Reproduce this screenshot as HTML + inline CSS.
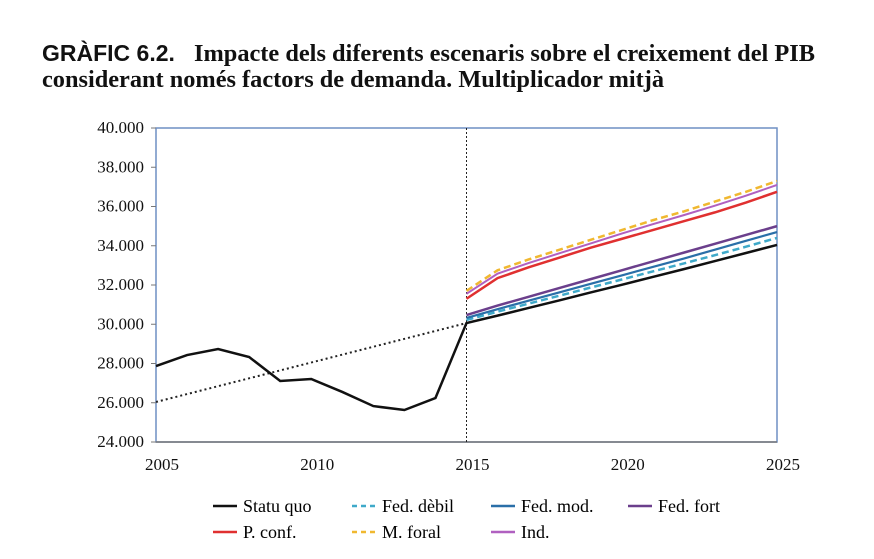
<!DOCTYPE html>
<html><head><meta charset="utf-8"><style>
body{margin:0;background:#fff;width:874px;height:554px;overflow:hidden}
svg text{font-family:"Liberation Serif",serif}
</style></head><body>
<svg width="874" height="554">
<text x="42" y="61" font-weight="bold" font-size="23" fill="#111" style="font-family:'Liberation Sans',sans-serif">GRÀFIC 6.2.</text>
<text x="194" y="61" font-size="24" font-weight="bold" fill="#111" textLength="621" lengthAdjust="spacingAndGlyphs">Impacte dels diferents escenaris sobre el creixement del PIB</text>
<text x="42" y="87" font-size="24" font-weight="bold" fill="#111" textLength="622" lengthAdjust="spacingAndGlyphs">considerant només factors de demanda. Multiplicador mitjà</text>
<g id="plot"></g>
</svg>
<script>
const years=[2005,2006,2007,2008,2009,2010,2011,2012,2013,2014,2015,2016,2017,2018,2019,2020,2021,2022,2023,2024,2025];
const scenYears=[2015,2016,2017,2018,2019,2020,2021,2022,2023,2024,2025];
const statuQuo=[27870,28430,28740,28330,27110,27210,26550,25830,25630,26240,30060,30440,30830,31220,31620,32010,32410,32810,33220,33630,34040];
const trendYears=[2005,2015];
const trend=[26040,30060];
const fedDebil=[30220,30640,31050,31460,31870,32280,32690,33100,33520,33950,34400];
const fedMod=[30320,30770,31200,31630,32060,32490,32920,33350,33800,34250,34700];
const fedFort=[30470,30950,31400,31850,32300,32750,33200,33650,34100,34550,35000];
const pConf=[31300,32350,32900,33400,33900,34350,34800,35250,35700,36200,36750];
const mForal=[31700,32750,33300,33800,34300,34800,35300,35750,36250,36750,37300];
const ind=[31550,32580,33120,33620,34120,34620,35100,35560,36040,36550,37100];
const yTicks=[24000,26000,28000,30000,32000,34000,36000,38000,40000];
const xTicks=[2005,2010,2015,2020,2025];
const L=156,R=777,T=128,B=442;
const xs=y=>L+(y-2005)*(R-L)/20;
const ys=v=>B-(v-24000)*(B-T)/16000;
const NS="http://www.w3.org/2000/svg";
const g=document.getElementById('plot');
function mk(t,a){const e=document.createElementNS(NS,t);for(const k in a)e.setAttribute(k,a[k]);g.appendChild(e);return e;}
let fr=mk('rect',{x:L,y:T,width:R-L,height:B-T,fill:'none',stroke:'#6f8fc4','stroke-width':1.5});


let xa=mk('line',{x1:L,y1:B,x2:R,y2:B,stroke:'#777','stroke-width':1.5});


yTicks.forEach(v=>{let t=mk('text',{x:L-12,y:ys(v)+5,'text-anchor':'end','font-size':17,fill:'#111'});t.textContent=v.toLocaleString('de-DE');


mk('line',{x1:L-5,y1:ys(v),x2:L,y2:ys(v),stroke:'#777'});});
xTicks.forEach(v=>{let t=mk('text',{x:xs(v)+6,y:B+28,'text-anchor':'middle','font-size':17,fill:'#111'});t.textContent=v;

});
let vl=mk('line',{x1:xs(2015),y1:T,x2:xs(2015),y2:B,stroke:'#222','stroke-width':1,'stroke-dasharray':'2,2'});


function line(xv,yv,color,w,dash,name){const p=mk('polyline',{points:xv.map((x,i)=>xs(x)+','+ys(yv[i])).join(' '),fill:'none',stroke:color,'stroke-width':w,'stroke-dasharray':dash||'none'});

}
line(trendYears,trend,'#222',2,'2,3','trend-line');
line(scenYears,fedDebil,'#3fa9c9',2.5,'7,4','series-fed-debil');
line(scenYears,fedMod,'#2a6fa8',2.2,null,'series-fed-mod');
line(scenYears,fedFort,'#6b3f8c',2.5,null,'series-fed-fort');
line(scenYears,pConf,'#e03030',2.5,null,'series-p-conf');
line(scenYears,mForal,'#f0b830',2.5,'7,4','series-m-foral');
line(scenYears,ind,'#b060c0',2,null,'series-ind');
line(years,statuQuo,'#111',2.5,null,'series-statu-quo');
const legNames=['Statu quo','Fed. dèbil','Fed. mod.','Fed. fort','P.  conf.','M. foral','Ind.'];
const legCols=['#111','#3fa9c9','#2a6fa8','#6b3f8c','#e03030','#f0b830','#b060c0'];
const legDash=[null,'5,4',null,null,null,'5,4',null];
const legX=[213,352,491,628,213,352,491],legY=[512,512,512,512,538,538,538];
legNames.forEach((n,i)=>{const lg=mk('g',{});


const l=document.createElementNS(NS,'line');[['x1',legX[i]],['x2',legX[i]+24],['y1',legY[i]-6],['y2',legY[i]-6],['stroke',legCols[i]],['stroke-width',2.5]].forEach(a=>l.setAttribute(a[0],a[1]));if(legDash[i])l.setAttribute('stroke-dasharray',legDash[i]);lg.appendChild(l);
const t=document.createElementNS(NS,'text');t.setAttribute('x',legX[i]+30);t.setAttribute('y',legY[i]);t.setAttribute('font-size',18);t.textContent=n;lg.appendChild(t);});
</script>
</body></html>
